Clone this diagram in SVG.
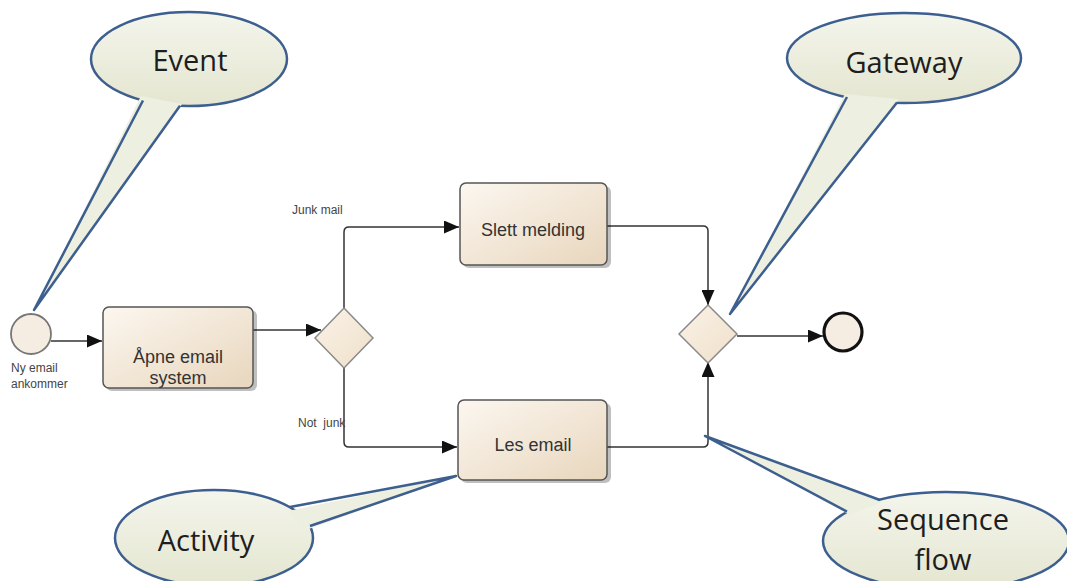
<svg xmlns="http://www.w3.org/2000/svg" width="1067" height="581" viewBox="0 0 1067 581">
<defs>
<style>
.bal{fill:url(#balg);stroke:#3d5f8f;stroke-width:2.5}
.tailf{fill:#edefe0;stroke:none}
.tails{fill:none;stroke:#3d5f8f;stroke-width:2.5;stroke-linejoin:round}
.btxt{font-family:"Open Sans","Liberation Sans",sans-serif;font-size:29px;fill:#1e1e1e;text-anchor:middle}
.box{fill:url(#boxg);stroke:#555;stroke-width:1.5}
.shadow{fill:#000;opacity:0.25}
.ttxt{font-family:"Liberation Sans",Arial,sans-serif;font-size:18px;fill:#333;text-anchor:middle}
.stxt{font-family:"Liberation Sans",Arial,sans-serif;font-size:12px;fill:#444}
.flow{fill:none;stroke:#333;stroke-width:1.5;marker-end:url(#arr)}
.gw{fill:url(#gwg);stroke:#8a8a8a;stroke-width:1.5}
</style>
<linearGradient id="balg" x1="0" y1="0" x2="0" y2="1">
<stop offset="0" stop-color="#f4f5ec"/>
<stop offset="1" stop-color="#e4e6d0"/>
</linearGradient>
<linearGradient id="boxg" x1="0" y1="0" x2="1" y2="1">
<stop offset="0" stop-color="#fcf7f0"/>
<stop offset="1" stop-color="#e8d6bd"/>
</linearGradient>
<linearGradient id="gwg" x1="0" y1="0" x2="1" y2="1">
<stop offset="0" stop-color="#fbf3e8"/>
<stop offset="1" stop-color="#eedfc9"/>
</linearGradient>
<marker id="arr" markerUnits="userSpaceOnUse" markerWidth="15" markerHeight="13" refX="15" refY="6.5" orient="auto">
<path d="M0,0 L15,6.5 L0,13 z" fill="#111"/>
</marker>
</defs>
<rect width="1067" height="581" fill="#fff"/>

<g id="connectors">
<path class="flow" d="M51,341 L102,341"/>
<path class="flow" d="M253,330 L321,330"/>
<path class="flow" d="M344,308 L344,232 Q344,227 349,227 L459,227"/>
<path class="flow" d="M344,368 L344,442 Q344,447 349,447 L457,447"/>
<path class="flow" d="M607,226 L703,226 Q708,226 708,231 L708,305"/>
<path class="flow" d="M607,447 L703,447 Q708,447 708,442 L708,362"/>
<path class="flow" d="M737,336 L823,336"/>
</g>

<g id="start-event">
<circle cx="31" cy="334" r="20" fill="#f6ede2" stroke="#777" stroke-width="1.8"/>
<text class="stxt" x="11" y="372">Ny email</text>
<text class="stxt" x="11" y="388">ankommer</text>
</g>

<g id="task-apne">
<rect class="shadow" x="106" y="310" width="151" height="81" rx="6"/>
<rect class="box" x="103" y="307" width="150" height="81" rx="6"/>
<text class="ttxt" x="178" y="363">Åpne email</text>
<text class="ttxt" x="178" y="384">system</text>
</g>

<g id="gateway-split">
<polygon class="gw" points="344,308 373,338 344,368 315,338"/>
<text class="stxt" x="292" y="214">Junk mail</text>
<text class="stxt" x="298" y="427" xml:space="preserve">Not  junk</text>
</g>

<g id="task-slett">
<rect class="shadow" x="463" y="186" width="148" height="82" rx="6"/>
<rect class="box" x="460" y="183" width="147" height="82" rx="6"/>
<text class="ttxt" x="533" y="236">Slett melding</text>
</g>

<g id="task-les">
<rect class="shadow" x="461" y="403" width="150" height="80" rx="6"/>
<rect class="box" x="458" y="400" width="149" height="80" rx="6"/>
<text class="ttxt" x="533" y="451">Les email</text>
</g>

<g id="gateway-merge">
<polygon class="gw" points="708,305 737,334 708,363 679,334"/>
</g>

<g id="end-event">
<circle cx="843" cy="332" r="19" fill="#f6ede2" stroke="#111" stroke-width="3.2"/>
</g>

<g id="callout-event">
<ellipse class="bal" cx="189" cy="59" rx="98" ry="47"/>
<polygon class="tailf" points="141,96 34,310 182,104"/>
<polyline class="tails" points="143,100.5 34,310 180,105.8"/>
<text class="btxt" x="190" y="71">Event</text>
</g>

<g id="callout-gateway">
<ellipse class="bal" cx="904" cy="58" rx="117" ry="45"/>
<polygon class="tailf" points="845,94 730,314 899,99"/>
<polyline class="tails" points="847,97 730,314 897,102.5"/>
<text class="btxt" x="904" y="73">Gateway</text>
</g>

<g id="callout-activity">
<ellipse class="bal" cx="214" cy="538" rx="99" ry="48"/>
<polygon class="tailf" points="288,511 456,476 306,530"/>
<polyline class="tails" points="290,507 456,476 310,526"/>
<text class="btxt" x="206" y="551">Activity</text>
</g>

<g id="callout-sequence">
<ellipse class="bal" cx="946" cy="541" rx="123" ry="49"/>
<polygon class="tailf" points="882,502 705,436 850,515"/>
<polyline class="tails" points="880,500 705,436 847,511.6"/>
<text class="btxt" x="943" y="530">Sequence</text>
<text class="btxt" x="943" y="570">flow</text>
</g>
</svg>
